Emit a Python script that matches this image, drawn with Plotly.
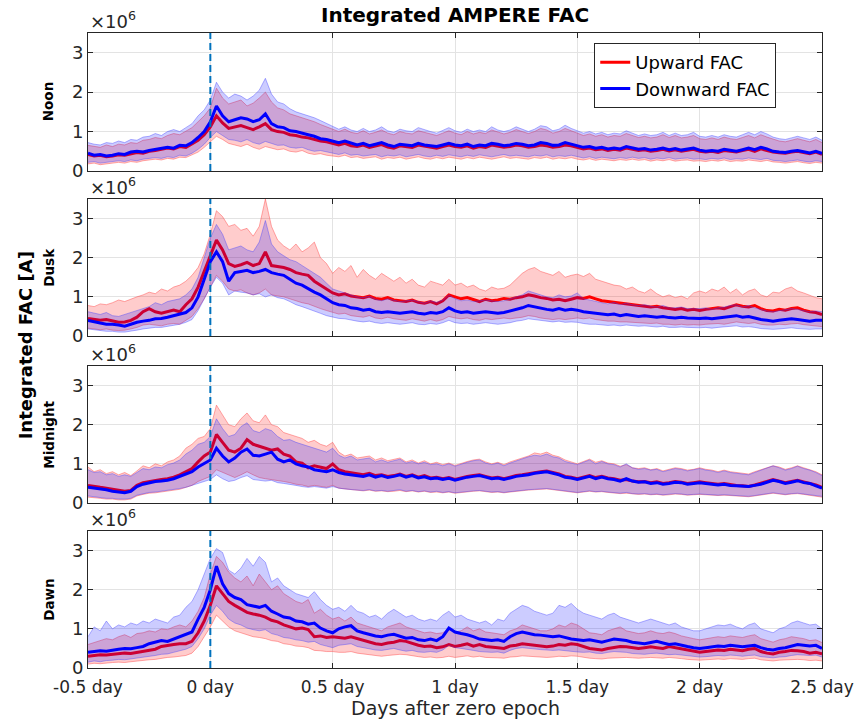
import numpy as np
import plotly.graph_objects as go

# ---------------- data (units of 1e6 A) ----------------
# time grid: -0.5 .. 2.5 days, step 0.025 day (121 samples)
days = np.round(np.linspace(-0.5, 2.5, 121), 4)
zero_epoch = 0.0
xtick_vals = [-0.5, 0, 0.5, 1, 1.5, 2, 2.5]
xtick_text = ["-0.5 day", "0 day", "0.5 day", "1 day", "1.5 day", "2 day", "2.5 day"]
ytick_vals = [0, 1, 2, 3]
panels = ["Noon", "Dusk", "Midnight", "Dawn"]

# ---- Noon ----
noon_up = [0.42,0.38,0.40,0.36,0.38,0.41,0.40,0.44,0.47,0.45,
           0.50,0.52,0.55,0.58,0.56,0.62,0.60,0.68,0.78,0.92,
           1.12,1.40,1.22,1.08,1.12,1.15,1.10,1.05,1.12,1.20,
           1.05,1.00,0.98,0.92,0.90,0.86,0.84,0.80,0.76,0.74,
           0.70,0.66,0.70,0.64,0.62,0.66,0.60,0.63,0.67,0.61,
           0.58,0.64,0.62,0.60,0.66,0.63,0.60,0.58,0.62,0.66,
           0.62,0.60,0.64,0.58,0.62,0.60,0.66,0.63,0.60,0.62,
           0.66,0.64,0.60,0.62,0.66,0.64,0.60,0.62,0.66,0.64,
           0.60,0.56,0.58,0.54,0.56,0.52,0.55,0.53,0.58,0.55,
           0.52,0.54,0.50,0.52,0.55,0.51,0.54,0.50,0.52,0.55,
           0.50,0.48,0.50,0.47,0.52,0.50,0.48,0.52,0.55,0.50,
           0.56,0.52,0.48,0.46,0.45,0.48,0.50,0.47,0.44,0.48,
           0.42]
noon_dn = [0.45,0.40,0.42,0.38,0.40,0.44,0.42,0.48,0.50,0.48,
           0.52,0.55,0.58,0.60,0.58,0.65,0.64,0.72,0.85,1.00,
           1.25,1.65,1.40,1.25,1.30,1.35,1.32,1.25,1.30,1.45,
           1.20,1.12,1.10,1.02,1.00,0.95,0.92,0.88,0.82,0.80,
           0.76,0.72,0.76,0.70,0.66,0.70,0.64,0.68,0.72,0.66,
           0.62,0.68,0.66,0.64,0.70,0.66,0.64,0.62,0.66,0.70,
           0.66,0.64,0.68,0.62,0.66,0.64,0.70,0.68,0.64,0.66,
           0.70,0.68,0.64,0.66,0.72,0.70,0.65,0.66,0.72,0.68,
           0.64,0.60,0.62,0.58,0.60,0.56,0.58,0.56,0.62,0.58,
           0.55,0.57,0.53,0.55,0.58,0.54,0.57,0.53,0.55,0.58,
           0.53,0.50,0.52,0.50,0.55,0.52,0.50,0.54,0.58,0.54,
           0.60,0.56,0.50,0.48,0.47,0.50,0.52,0.49,0.46,0.50,
           0.45]
noon_up_lo = [0.18,0.20,0.16,0.18,0.20,0.22,0.20,0.24,0.22,0.26,
              0.28,0.30,0.28,0.32,0.30,0.35,0.34,0.40,0.48,0.60,
              0.75,0.88,0.80,0.70,0.66,0.62,0.68,0.60,0.55,0.62,
              0.58,0.54,0.56,0.50,0.48,0.52,0.45,0.42,0.44,0.40,
              0.38,0.36,0.40,0.34,0.36,0.32,0.34,0.36,0.30,0.34,
              0.32,0.35,0.30,0.33,0.36,0.32,0.30,0.34,0.31,0.35,
              0.32,0.30,0.34,0.31,0.35,0.32,0.30,0.33,0.36,0.32,
              0.34,0.32,0.30,0.34,0.32,0.35,0.30,0.33,0.31,0.34,
              0.30,0.28,0.31,0.27,0.30,0.28,0.26,0.29,0.27,0.30,
              0.27,0.29,0.25,0.28,0.26,0.29,0.25,0.27,0.28,0.25,
              0.26,0.24,0.27,0.25,0.28,0.24,0.26,0.25,0.28,0.26,
              0.24,0.27,0.23,0.22,0.20,0.22,0.24,0.21,0.19,0.22,
              0.20]
noon_up_hi = [0.65,0.62,0.60,0.66,0.62,0.68,0.66,0.72,0.70,0.78,
              0.80,0.85,0.82,0.90,0.95,0.92,1.00,1.10,1.25,1.40,
              1.60,2.10,1.85,1.70,1.75,1.80,1.65,1.72,1.85,2.00,
              1.75,1.60,1.55,1.45,1.40,1.35,1.30,1.25,1.18,1.12,
              1.05,1.00,1.06,0.98,0.95,1.02,0.94,0.98,1.04,0.96,
              0.92,1.00,0.96,0.94,1.02,0.98,0.94,0.90,0.96,1.02,
              0.96,0.92,1.00,0.94,0.98,0.95,1.04,0.98,0.94,0.98,
              1.05,1.00,0.95,1.00,1.08,1.04,0.96,1.00,1.08,1.02,
              0.96,0.90,0.94,0.88,0.92,0.86,0.90,0.88,0.95,0.90,
              0.85,0.88,0.84,0.86,0.92,0.85,0.90,0.84,0.86,0.90,
              0.82,0.80,0.84,0.80,0.86,0.82,0.80,0.85,0.90,0.84,
              0.92,0.86,0.80,0.76,0.74,0.78,0.82,0.78,0.74,0.80,
              0.72]
noon_dn_lo = [0.22,0.24,0.20,0.22,0.24,0.26,0.24,0.28,0.26,0.30,
              0.32,0.34,0.32,0.36,0.34,0.40,0.38,0.45,0.55,0.68,
              0.85,1.00,0.90,0.80,0.78,0.74,0.80,0.72,0.68,0.75,
              0.70,0.65,0.66,0.60,0.58,0.60,0.54,0.50,0.52,0.48,
              0.45,0.42,0.46,0.40,0.42,0.38,0.40,0.42,0.36,0.40,
              0.38,0.41,0.36,0.39,0.42,0.38,0.36,0.40,0.37,0.41,
              0.38,0.36,0.40,0.37,0.41,0.38,0.36,0.39,0.42,0.38,
              0.40,0.38,0.36,0.40,0.38,0.41,0.36,0.39,0.37,0.40,
              0.36,0.33,0.36,0.32,0.35,0.33,0.31,0.34,0.32,0.35,
              0.32,0.34,0.30,0.33,0.31,0.34,0.30,0.32,0.33,0.30,
              0.31,0.29,0.32,0.30,0.33,0.29,0.31,0.30,0.33,0.31,
              0.29,0.32,0.27,0.26,0.24,0.26,0.28,0.25,0.23,0.26,
              0.24]
noon_dn_hi = [0.72,0.68,0.66,0.72,0.70,0.76,0.72,0.80,0.78,0.86,
              0.88,0.95,0.90,1.00,1.05,1.00,1.10,1.20,1.40,1.55,
              1.80,2.25,2.00,1.85,1.95,1.90,1.80,1.90,2.05,2.35,
              1.95,1.75,1.70,1.58,1.50,1.45,1.40,1.35,1.28,1.20,
              1.12,1.06,1.12,1.04,1.00,1.08,1.00,1.04,1.12,1.02,
              0.98,1.06,1.02,1.00,1.10,1.04,1.00,0.96,1.02,1.10,
              1.02,0.98,1.06,1.00,1.04,1.00,1.12,1.04,1.00,1.04,
              1.12,1.06,1.00,1.06,1.15,1.12,1.02,1.06,1.16,1.08,
              1.02,0.96,1.00,0.94,0.98,0.92,0.96,0.94,1.02,0.96,
              0.90,0.94,0.90,0.92,0.98,0.90,0.96,0.90,0.92,0.98,
              0.88,0.86,0.90,0.86,0.92,0.88,0.86,0.92,0.98,0.92,
              1.00,0.94,0.86,0.82,0.80,0.84,0.88,0.84,0.80,0.86,
              0.78]

# ---- Dusk ----
dusk_up = [0.45,0.42,0.40,0.42,0.38,0.35,0.36,0.40,0.48,0.62,
           0.70,0.62,0.58,0.62,0.66,0.62,0.80,0.95,1.25,1.65,
           2.05,2.45,2.20,1.85,1.78,1.82,1.88,1.80,1.85,2.15,
           1.80,1.78,1.75,1.70,1.62,1.58,1.55,1.40,1.30,1.22,
           1.10,1.05,1.08,1.02,1.00,0.98,1.02,0.96,0.94,0.98,
           0.92,0.90,0.88,0.92,0.86,0.84,0.88,0.82,0.90,1.05,
           1.00,0.95,0.98,0.92,0.88,0.94,0.90,0.92,0.96,0.94,
           0.98,1.00,1.05,1.02,0.98,0.96,0.92,0.94,0.90,0.94,
           0.98,0.96,1.00,0.95,0.90,0.88,0.86,0.84,0.82,0.80,
           0.78,0.76,0.74,0.76,0.72,0.70,0.68,0.70,0.66,0.68,
           0.65,0.68,0.70,0.72,0.70,0.74,0.80,0.76,0.74,0.78,
           0.70,0.65,0.64,0.68,0.66,0.70,0.72,0.66,0.62,0.60,
           0.55]
dusk_dn = [0.40,0.36,0.33,0.30,0.30,0.28,0.25,0.30,0.35,0.38,
           0.40,0.44,0.45,0.48,0.52,0.56,0.60,0.72,1.00,1.45,
           1.90,2.15,1.90,1.40,1.62,1.65,1.68,1.62,1.65,1.70,
           1.62,1.58,1.55,1.45,1.35,1.30,1.20,1.12,1.05,0.95,
           0.85,0.80,0.78,0.72,0.70,0.66,0.68,0.62,0.60,0.62,
           0.60,0.58,0.60,0.62,0.58,0.56,0.60,0.58,0.62,0.72,
           0.64,0.60,0.62,0.58,0.60,0.62,0.60,0.58,0.60,0.64,
           0.68,0.72,0.78,0.74,0.72,0.68,0.66,0.70,0.66,0.68,
           0.66,0.62,0.60,0.58,0.55,0.54,0.56,0.52,0.55,0.52,
           0.50,0.52,0.50,0.48,0.50,0.47,0.46,0.48,0.46,0.45,
           0.45,0.46,0.44,0.46,0.48,0.50,0.52,0.48,0.50,0.46,
           0.42,0.40,0.38,0.40,0.42,0.44,0.42,0.40,0.38,0.40,
           0.40]
dusk_up_lo = [0.20,0.18,0.16,0.18,0.15,0.14,0.15,0.18,0.22,0.28,
              0.30,0.28,0.26,0.30,0.32,0.30,0.40,0.50,0.70,0.95,
              1.25,1.55,1.40,1.20,1.15,1.18,1.10,1.05,1.10,1.20,
              1.05,1.02,1.00,0.95,0.90,0.85,0.82,0.75,0.70,0.65,
              0.60,0.56,0.58,0.52,0.50,0.48,0.52,0.46,0.44,0.48,
              0.44,0.42,0.40,0.44,0.40,0.38,0.42,0.38,0.42,0.50,
              0.46,0.44,0.46,0.42,0.40,0.44,0.42,0.44,0.46,0.44,
              0.46,0.48,0.52,0.50,0.46,0.44,0.42,0.44,0.42,0.44,
              0.46,0.44,0.46,0.42,0.40,0.38,0.38,0.36,0.36,0.35,
              0.34,0.32,0.32,0.33,0.30,0.30,0.28,0.30,0.28,0.29,
              0.28,0.30,0.31,0.32,0.30,0.33,0.36,0.34,0.32,0.34,
              0.30,0.28,0.28,0.30,0.29,0.31,0.32,0.29,0.27,0.26,
              0.24]
dusk_up_hi = [0.78,0.75,0.82,0.80,0.85,0.92,0.88,0.95,1.00,1.05,
              1.12,1.08,1.20,1.15,1.25,1.30,1.40,1.55,1.75,2.10,
              2.60,3.20,3.05,2.80,2.85,2.70,2.75,2.55,2.80,3.50,
              2.80,2.45,2.30,2.20,2.35,2.15,2.25,2.40,2.00,1.85,
              1.60,1.75,1.65,1.80,1.50,1.70,1.55,1.45,1.60,1.50,
              1.40,1.50,1.35,1.45,1.30,1.25,1.40,1.35,1.30,1.45,
              1.30,1.35,1.25,1.30,1.20,1.15,1.25,1.20,1.22,1.30,
              1.45,1.60,1.70,1.75,1.65,1.60,1.55,1.65,1.50,1.55,
              1.58,1.52,1.60,1.45,1.40,1.35,1.30,1.28,1.20,1.25,
              1.15,1.10,1.20,1.08,1.00,1.05,0.98,1.02,0.95,1.10,
              1.15,1.10,1.20,1.15,1.25,1.10,1.20,1.05,1.15,1.20,
              1.05,1.00,1.12,1.10,1.20,1.25,1.15,1.10,1.05,0.98,
              0.95]
dusk_dn_lo = [0.18,0.16,0.14,0.12,0.12,0.10,0.10,0.12,0.15,0.18,
              0.20,0.22,0.22,0.25,0.28,0.30,0.35,0.42,0.65,0.95,
              1.25,1.50,1.35,1.05,1.15,1.12,1.10,1.05,1.08,1.00,
              1.05,0.98,0.95,0.88,0.80,0.75,0.70,0.65,0.58,0.52,
              0.48,0.45,0.44,0.40,0.38,0.36,0.38,0.34,0.32,0.34,
              0.32,0.30,0.32,0.34,0.30,0.29,0.32,0.30,0.34,0.40,
              0.34,0.32,0.33,0.30,0.32,0.34,0.32,0.30,0.32,0.34,
              0.38,0.40,0.44,0.42,0.40,0.38,0.36,0.38,0.35,0.36,
              0.35,0.32,0.30,0.30,0.28,0.27,0.28,0.26,0.28,0.26,
              0.25,0.26,0.24,0.23,0.25,0.22,0.22,0.23,0.22,0.21,
              0.21,0.22,0.20,0.22,0.23,0.25,0.26,0.23,0.24,0.22,
              0.19,0.18,0.17,0.18,0.20,0.21,0.19,0.18,0.17,0.18,
              0.18]
dusk_dn_hi = [0.62,0.58,0.55,0.60,0.52,0.50,0.55,0.60,0.65,0.70,
              0.75,0.85,0.80,0.88,0.92,0.95,1.05,1.20,1.50,2.00,
              2.50,2.85,2.60,2.20,2.25,2.30,2.20,2.15,2.40,2.95,
              2.35,2.15,2.05,1.95,1.90,1.80,1.70,1.60,1.50,1.35,
              1.20,1.15,1.10,1.05,1.00,0.98,1.02,0.94,0.90,0.95,
              0.92,0.88,0.90,0.92,0.88,0.84,0.90,0.86,0.92,1.05,
              0.95,0.90,0.92,0.88,0.90,0.92,0.90,0.88,0.90,0.95,
              1.00,1.05,1.15,1.10,1.06,1.00,0.98,1.05,1.00,1.02,
              1.10,0.95,0.92,0.88,0.85,0.82,0.86,0.80,0.84,0.80,
              0.78,0.80,0.76,0.74,0.78,0.72,0.72,0.74,0.70,0.70,
              0.70,0.72,0.68,0.72,0.74,0.78,0.80,0.74,0.78,0.72,
              0.68,0.64,0.62,0.65,0.68,0.70,0.68,0.65,0.62,0.64,
              0.62]

# ---- Midnight ----
mid_up = [0.45,0.42,0.40,0.38,0.35,0.33,0.30,0.32,0.45,0.52,
          0.55,0.58,0.60,0.62,0.66,0.72,0.80,0.88,1.05,1.20,
          1.30,1.75,1.55,1.35,1.30,1.40,1.62,1.50,1.45,1.40,
          1.35,1.38,1.25,1.20,1.05,1.02,0.90,0.95,0.92,0.88,
          1.00,0.85,0.80,0.78,0.75,0.72,0.76,0.70,0.72,0.68,
          0.70,0.74,0.68,0.72,0.66,0.70,0.64,0.66,0.62,0.65,
          0.60,0.64,0.68,0.70,0.72,0.68,0.64,0.66,0.62,0.66,
          0.70,0.72,0.75,0.78,0.80,0.82,0.78,0.74,0.68,0.66,
          0.62,0.66,0.70,0.65,0.68,0.64,0.62,0.58,0.60,0.56,
          0.54,0.55,0.52,0.54,0.50,0.52,0.55,0.53,0.50,0.52,
          0.54,0.52,0.50,0.48,0.50,0.47,0.45,0.44,0.42,0.46,
          0.50,0.55,0.60,0.56,0.52,0.55,0.58,0.54,0.50,0.46,
          0.40]
mid_dn = [0.40,0.38,0.36,0.34,0.30,0.28,0.26,0.30,0.42,0.48,
          0.52,0.55,0.56,0.58,0.62,0.68,0.74,0.80,0.92,1.02,
          1.10,1.40,1.20,1.05,1.15,1.30,1.38,1.22,1.20,1.25,
          1.30,1.12,1.05,1.10,1.00,0.95,0.92,0.85,0.82,0.80,
          0.85,0.78,0.74,0.72,0.70,0.68,0.72,0.66,0.70,0.65,
          0.68,0.72,0.66,0.70,0.64,0.67,0.62,0.64,0.60,0.63,
          0.58,0.62,0.66,0.68,0.70,0.66,0.62,0.64,0.60,0.64,
          0.68,0.70,0.72,0.76,0.78,0.80,0.76,0.72,0.66,0.64,
          0.60,0.64,0.68,0.62,0.66,0.62,0.60,0.56,0.62,0.56,
          0.53,0.54,0.50,0.52,0.48,0.50,0.53,0.52,0.48,0.50,
          0.52,0.50,0.48,0.46,0.48,0.45,0.44,0.43,0.42,0.45,
          0.48,0.53,0.58,0.55,0.50,0.53,0.57,0.52,0.50,0.44,
          0.38]
mid_up_lo = [0.15,0.14,0.12,0.10,0.10,0.08,0.08,0.10,0.18,0.22,
             0.25,0.26,0.28,0.30,0.32,0.35,0.40,0.45,0.55,0.62,
             0.68,0.85,0.78,0.70,0.65,0.72,0.80,0.72,0.65,0.62,
             0.60,0.58,0.55,0.52,0.48,0.46,0.42,0.45,0.42,0.40,
             0.45,0.38,0.36,0.34,0.32,0.31,0.33,0.30,0.31,0.29,
             0.30,0.32,0.29,0.31,0.28,0.30,0.27,0.28,0.26,0.28,
             0.25,0.27,0.29,0.30,0.31,0.29,0.27,0.28,0.26,0.28,
             0.30,0.31,0.33,0.34,0.35,0.36,0.34,0.32,0.29,0.28,
             0.26,0.28,0.30,0.28,0.29,0.27,0.26,0.24,0.25,0.23,
             0.22,0.23,0.21,0.22,0.20,0.21,0.23,0.22,0.20,0.21,
             0.22,0.21,0.20,0.19,0.20,0.19,0.18,0.17,0.16,0.18,
             0.20,0.22,0.25,0.23,0.21,0.23,0.24,0.22,0.20,0.18,
             0.15]
mid_up_hi = [0.92,0.80,0.85,0.75,0.80,0.72,0.78,0.70,0.82,0.95,
             0.90,1.00,0.95,1.05,1.10,1.20,1.40,1.50,1.65,1.70,
             1.90,2.50,2.25,2.00,1.95,2.15,2.30,2.10,2.05,2.25,
             2.00,1.95,1.80,1.75,1.70,1.65,1.55,1.60,1.50,1.45,
             1.55,1.30,1.20,1.25,1.15,1.18,1.20,1.10,1.15,1.08,
             1.12,1.15,1.05,1.10,1.02,1.08,1.00,1.04,0.98,1.02,
             0.96,1.02,1.06,1.10,1.12,1.05,1.00,1.04,0.98,1.05,
             1.10,1.15,1.20,1.28,1.25,1.30,1.22,1.18,1.10,1.05,
             1.00,1.06,1.12,1.04,1.08,1.02,1.00,0.94,0.98,0.90,
             0.88,0.90,0.85,0.88,0.82,0.86,0.90,0.88,0.84,0.86,
             0.90,0.86,0.84,0.80,0.84,0.80,0.78,0.76,0.74,0.80,
             0.85,0.90,0.95,0.92,0.86,0.90,0.95,0.90,0.85,0.80,
             0.72]
mid_dn_lo = [0.18,0.16,0.14,0.12,0.12,0.10,0.10,0.12,0.20,0.24,
             0.27,0.28,0.30,0.32,0.34,0.37,0.40,0.45,0.50,0.55,
             0.60,0.72,0.62,0.55,0.58,0.65,0.70,0.60,0.58,0.56,
             0.58,0.52,0.50,0.48,0.45,0.42,0.40,0.42,0.40,0.38,
             0.42,0.38,0.36,0.34,0.33,0.32,0.34,0.31,0.32,0.30,
             0.32,0.34,0.30,0.32,0.29,0.31,0.28,0.30,0.27,0.29,
             0.26,0.28,0.30,0.31,0.32,0.30,0.28,0.29,0.27,0.29,
             0.31,0.32,0.34,0.35,0.36,0.37,0.35,0.33,0.30,0.29,
             0.27,0.29,0.31,0.29,0.30,0.28,0.27,0.25,0.27,0.24,
             0.23,0.24,0.22,0.23,0.21,0.22,0.24,0.23,0.21,0.22,
             0.23,0.22,0.21,0.20,0.21,0.20,0.19,0.18,0.17,0.19,
             0.21,0.23,0.26,0.24,0.22,0.24,0.25,0.23,0.21,0.19,
             0.17]
mid_dn_hi = [0.85,0.78,0.80,0.72,0.75,0.68,0.72,0.68,0.78,0.88,
             0.85,0.92,0.90,0.98,1.02,1.10,1.25,1.35,1.50,1.55,
             1.70,2.15,1.90,1.70,1.75,1.95,2.05,1.85,1.80,1.90,
             1.85,1.70,1.60,1.62,1.55,1.50,1.45,1.40,1.35,1.30,
             1.40,1.22,1.15,1.20,1.10,1.12,1.15,1.05,1.10,1.04,
             1.08,1.12,1.02,1.06,1.00,1.04,0.98,1.00,0.95,1.00,
             0.94,1.00,1.04,1.08,1.10,1.02,0.98,1.02,0.95,1.02,
             1.08,1.12,1.18,1.22,1.20,1.25,1.18,1.15,1.06,1.02,
             0.98,1.04,1.10,1.00,1.06,1.00,0.98,0.92,1.00,0.90,
             0.86,0.88,0.84,0.86,0.80,0.84,0.88,0.86,0.82,0.85,
             0.88,0.84,0.82,0.78,0.82,0.78,0.76,0.75,0.72,0.78,
             0.84,0.88,0.95,0.90,0.84,0.88,0.94,0.88,0.84,0.78,
             0.70]

# ---- Dawn ----
dawn_up = [0.30,0.32,0.34,0.33,0.35,0.36,0.38,0.37,0.40,0.42,
           0.45,0.48,0.55,0.58,0.60,0.62,0.62,0.68,0.90,1.20,
           1.60,2.10,1.90,1.70,1.60,1.50,1.42,1.38,1.35,1.30,
           1.22,1.18,1.10,1.05,1.00,1.02,0.98,0.80,0.82,0.78,
           0.80,0.78,0.76,0.80,0.75,0.70,0.65,0.62,0.60,0.64,
           0.66,0.70,0.68,0.62,0.58,0.55,0.56,0.52,0.54,0.60,
           0.55,0.58,0.62,0.56,0.60,0.55,0.54,0.52,0.50,0.56,
           0.58,0.62,0.60,0.58,0.55,0.54,0.56,0.60,0.58,0.62,
           0.60,0.55,0.50,0.48,0.46,0.50,0.52,0.55,0.54,0.52,
           0.50,0.52,0.54,0.52,0.50,0.55,0.52,0.48,0.45,0.42,
           0.40,0.42,0.44,0.46,0.45,0.48,0.46,0.44,0.48,0.50,
           0.42,0.38,0.36,0.40,0.42,0.45,0.44,0.42,0.38,0.40,
           0.36]
dawn_dn = [0.40,0.42,0.44,0.43,0.46,0.48,0.50,0.49,0.52,0.55,
           0.62,0.66,0.70,0.68,0.74,0.80,0.86,0.92,1.25,1.55,
           2.00,2.60,2.15,1.90,1.80,1.75,1.62,1.58,1.55,1.60,
           1.45,1.38,1.30,1.28,1.20,1.18,1.12,1.15,1.02,0.95,
           0.90,1.00,1.05,1.08,0.95,0.90,0.85,0.82,0.80,0.84,
           0.86,0.80,0.76,0.78,0.72,0.70,0.74,0.70,0.80,1.02,
           0.92,0.88,0.85,0.80,0.74,0.72,0.70,0.72,0.68,0.80,
           0.88,0.92,0.88,0.85,0.84,0.82,0.80,0.82,0.78,0.74,
           0.72,0.70,0.72,0.68,0.66,0.70,0.74,0.72,0.70,0.66,
           0.64,0.62,0.65,0.68,0.64,0.60,0.62,0.58,0.55,0.52,
           0.50,0.52,0.54,0.56,0.55,0.58,0.56,0.54,0.56,0.58,
           0.52,0.48,0.46,0.50,0.52,0.56,0.60,0.58,0.56,0.58,
           0.50]
dawn_up_lo = [0.10,0.12,0.11,0.13,0.14,0.15,0.14,0.16,0.18,0.20,
              0.21,0.22,0.25,0.27,0.28,0.30,0.32,0.38,0.55,0.80,
              1.05,1.35,1.20,1.05,0.95,0.90,0.85,0.80,0.78,0.75,
              0.70,0.68,0.62,0.60,0.56,0.55,0.52,0.45,0.44,0.42,
              0.42,0.40,0.40,0.42,0.38,0.36,0.33,0.32,0.30,0.32,
              0.33,0.35,0.34,0.31,0.29,0.27,0.28,0.26,0.27,0.30,
              0.27,0.29,0.31,0.28,0.30,0.27,0.27,0.26,0.25,0.28,
              0.29,0.31,0.30,0.29,0.27,0.27,0.28,0.30,0.29,0.31,
              0.30,0.27,0.25,0.24,0.23,0.25,0.26,0.27,0.27,0.26,
              0.25,0.26,0.27,0.26,0.25,0.27,0.26,0.24,0.22,0.21,
              0.20,0.21,0.22,0.23,0.22,0.24,0.23,0.22,0.24,0.25,
              0.21,0.19,0.18,0.20,0.21,0.22,0.22,0.21,0.19,0.20,
              0.18]
dawn_up_hi = [0.60,0.65,0.70,0.75,0.72,0.80,0.85,0.78,0.88,0.90,
              0.95,0.92,1.00,0.98,1.05,1.10,1.05,1.20,1.45,1.80,
              2.40,2.85,2.70,2.45,2.30,2.20,2.35,2.10,2.40,2.20,
              2.00,2.10,1.90,1.80,1.70,1.65,1.75,1.40,1.50,1.35,
              1.25,1.30,1.20,1.30,1.15,1.10,1.05,1.00,0.95,1.05,
              1.10,1.15,1.05,1.00,0.95,0.90,0.92,0.88,0.90,1.00,
              0.92,0.95,1.05,0.95,1.00,0.92,0.90,0.88,0.85,0.95,
              1.00,1.10,1.05,1.00,0.95,0.95,1.00,1.10,1.05,1.15,
              1.10,1.00,0.90,0.88,0.85,0.95,1.00,1.05,0.95,0.92,
              0.88,0.90,0.95,0.90,0.88,0.92,0.88,0.82,0.78,0.75,
              0.72,0.75,0.78,0.80,0.78,0.82,0.80,0.78,0.82,0.85,
              0.75,0.70,0.66,0.72,0.75,0.80,0.78,0.75,0.70,0.72,
              0.65]
dawn_dn_lo = [0.15,0.18,0.16,0.19,0.20,0.22,0.21,0.23,0.25,0.28,
              0.30,0.32,0.35,0.36,0.40,0.44,0.48,0.55,0.75,1.00,
              1.35,1.60,1.45,1.25,1.15,1.10,1.02,0.98,0.95,0.98,
              0.88,0.84,0.78,0.76,0.72,0.70,0.66,0.68,0.60,0.56,
              0.52,0.58,0.60,0.62,0.55,0.52,0.48,0.46,0.45,0.48,
              0.50,0.46,0.43,0.45,0.41,0.40,0.42,0.40,0.46,0.58,
              0.52,0.50,0.48,0.45,0.42,0.41,0.40,0.41,0.38,0.45,
              0.50,0.52,0.50,0.48,0.47,0.46,0.45,0.46,0.44,0.42,
              0.41,0.40,0.41,0.38,0.37,0.40,0.42,0.41,0.40,0.37,
              0.36,0.35,0.37,0.38,0.36,0.34,0.35,0.33,0.31,0.29,
              0.28,0.29,0.30,0.32,0.31,0.33,0.32,0.30,0.32,0.33,
              0.29,0.27,0.26,0.28,0.29,0.32,0.34,0.33,0.32,0.33,
              0.28]
dawn_dn_hi = [0.80,1.05,0.95,1.20,1.00,1.10,1.05,1.15,1.10,1.20,
              1.15,1.25,1.20,1.15,1.30,1.35,1.55,1.70,2.00,2.40,
              2.80,3.05,2.95,2.50,2.40,2.55,2.80,2.60,2.85,2.70,
              2.20,2.30,2.10,2.00,1.90,1.85,1.80,1.95,1.75,1.60,
              1.50,1.55,1.45,1.60,1.45,1.40,1.30,1.35,1.25,1.40,
              1.50,1.40,1.30,1.35,1.25,1.20,1.25,1.20,1.35,1.45,
              1.30,1.35,1.25,1.20,1.15,1.20,1.10,1.25,1.20,1.40,
              1.50,1.60,1.55,1.45,1.40,1.35,1.40,1.60,1.55,1.65,
              1.50,1.40,1.35,1.30,1.25,1.35,1.40,1.30,1.25,1.20,
              1.15,1.20,1.25,1.20,1.15,1.10,1.15,1.05,1.00,0.95,
              0.95,1.00,1.05,1.10,1.08,1.12,1.05,1.00,1.10,1.15,
              1.00,0.95,0.90,1.00,1.05,1.15,1.20,1.15,1.10,1.12,
              1.00]

series = [
    (noon_up, noon_up_lo, noon_up_hi, noon_dn, noon_dn_lo, noon_dn_hi),
    (dusk_up, dusk_up_lo, dusk_up_hi, dusk_dn, dusk_dn_lo, dusk_dn_hi),
    (mid_up, mid_up_lo, mid_up_hi, mid_dn, mid_dn_lo, mid_dn_hi),
    (dawn_up, dawn_up_lo, dawn_up_hi, dawn_dn, dawn_dn_lo, dawn_dn_hi),
]
for s in series:
    for arr in s:
        assert len(arr) == len(days), len(arr)

# ---------------- styling ----------------
RED = "#ff0000"
BLUE = "#0000ff"
RED_FILL = "rgba(255,0,0,0.20)"
BLUE_FILL = "rgba(0,0,255,0.20)"
RED_EDGE = "rgba(255,60,60,0.55)"
BLUE_EDGE = "rgba(60,60,255,0.50)"
AX = "#262626"
GRID = "#e3e3e3"
FONT = "DejaVu Sans"

W, H = 866, 721
ML, MR, MT, MB = 88, 40, 33, 53
plot_h = H - MT - MB
plot_w = W - ML - MR
# panel pixel extents (top, bottom) measured from top of figure
panel_px = [(33, 171), (199, 336), (366, 503), (531, 668)]
domains = [[(H - MB - b) / plot_h, (H - MB - t) / plot_h] for t, b in panel_px]

fig = go.Figure()

for k, (up, up_lo, up_hi, dn, dn_lo, dn_hi) in enumerate(series):
    n = k + 1
    xa = "x" if n == 1 else f"x{n}"
    ya = "y" if n == 1 else f"y{n}"
    # upward band
    fig.add_trace(go.Scatter(x=days, y=up_lo, xaxis=xa, yaxis=ya, mode="lines",
                             line=dict(color=RED_EDGE, width=0.8), showlegend=False,
                             hoverinfo="skip"))
    fig.add_trace(go.Scatter(x=days, y=up_hi, xaxis=xa, yaxis=ya, mode="lines",
                             line=dict(color=RED_EDGE, width=0.8), fill="tonexty",
                             fillcolor=RED_FILL, showlegend=False, hoverinfo="skip"))
    # upward mean
    fig.add_trace(go.Scatter(x=days, y=up, xaxis=xa, yaxis=ya, mode="lines",
                             line=dict(color=RED, width=3), name="Upward FAC",
                             showlegend=(n == 1)))
    # downward band
    fig.add_trace(go.Scatter(x=days, y=dn_lo, xaxis=xa, yaxis=ya, mode="lines",
                             line=dict(color=BLUE_EDGE, width=0.8), showlegend=False,
                             hoverinfo="skip"))
    fig.add_trace(go.Scatter(x=days, y=dn_hi, xaxis=xa, yaxis=ya, mode="lines",
                             line=dict(color=BLUE_EDGE, width=0.8), fill="tonexty",
                             fillcolor=BLUE_FILL, showlegend=False, hoverinfo="skip"))
    # downward mean
    fig.add_trace(go.Scatter(x=days, y=dn, xaxis=xa, yaxis=ya, mode="lines",
                             line=dict(color=BLUE, width=3), name="Downward FAC",
                             showlegend=(n == 1)))

    xkey = "xaxis" if n == 1 else f"xaxis{n}"
    ykey = "yaxis" if n == 1 else f"yaxis{n}"
    fig.layout[xkey] = dict(
        domain=[0, 1], anchor=ya, range=[-0.5, 2.5],
        tickmode="array", tickvals=xtick_vals, ticktext=xtick_text,
        showticklabels=(n == 4), ticks="inside", ticklen=5, tickcolor=AX,
        showline=True, linecolor=AX, linewidth=1, mirror="ticks",
        showgrid=True, gridcolor=GRID, gridwidth=1, zeroline=False,
        tickfont=dict(family=FONT, size=17, color=AX), ticklabelstandoff=4,
    )
    if n > 1:
        fig.layout[xkey].matches = "x"
    fig.layout[ykey] = dict(
        domain=domains[k], anchor=xa, range=[0, 3.5],
        tickmode="array", tickvals=ytick_vals,
        ticks="inside", ticklen=5, tickcolor=AX,
        showline=True, linecolor=AX, linewidth=1, mirror="ticks",
        showgrid=True, gridcolor=GRID, gridwidth=1, zeroline=False,
        tickfont=dict(family=FONT, size=18, color=AX),
    )
    # zero epoch marker
    fig.add_shape(type="line", xref=xa, yref=f"{ya} domain",
                  x0=zero_epoch, x1=zero_epoch, y0=0, y1=1,
                  line=dict(color="#0072bd", width=2, dash="7px,4px"))
    # exponent label
    fig.add_annotation(xref="paper", yref=f"{ya} domain", x=0, y=1,
                       xanchor="left", yanchor="bottom", showarrow=False,
                       text="×10<sup>6</sup>", yshift=-1,
                       font=dict(family=FONT, size=18, color=AX))
    # panel label
    fig.add_annotation(xref="paper", yref=f"{ya} domain", x=(48 - ML) / plot_w,
                       y=0.5, xanchor="center", yanchor="middle", showarrow=False,
                       text=f"<b>{panels[k]}</b>", textangle=-90,
                       font=dict(family=FONT, size=13.5, color="#000000"))

# overall labels
fig.add_annotation(xref="paper", yref="paper", x=0.5, y=(H - MB - 15) / plot_h,
                   xanchor="center", yanchor="middle", showarrow=False,
                   text="<b>Integrated AMPERE FAC</b>",
                   font=dict(family=FONT, size=20, color="#000000"))
fig.add_annotation(xref="paper", yref="paper", x=(25 - ML) / plot_w,
                   y=(H - MB - 345) / plot_h, xanchor="center", yanchor="middle",
                   showarrow=False, text="<b>Integrated FAC [A]</b>", textangle=-90,
                   font=dict(family=FONT, size=18, color="#000000"))
fig.add_annotation(xref="paper", yref="paper", x=0.5, y=(H - MB - 708) / plot_h,
                   xanchor="center", yanchor="middle", showarrow=False,
                   text="Days after zero epoch",
                   font=dict(family=FONT, size=19, color=AX))

fig.update_layout(
    width=W, height=H,
    margin=dict(l=ML, r=MR, t=MT, b=MB),
    paper_bgcolor="white", plot_bgcolor="white",
    font=dict(family=FONT, color=AX),
    legend=dict(x=(597 - ML) / plot_w, y=(H - MB - 43) / plot_h,
                xanchor="left", yanchor="top", bgcolor="white",
                bordercolor="#262626", borderwidth=1, traceorder="normal",
                font=dict(family=FONT, size=18, color="#000000"),
                tracegroupgap=0),
    showlegend=True,
)

fig.write_html("out.html")
